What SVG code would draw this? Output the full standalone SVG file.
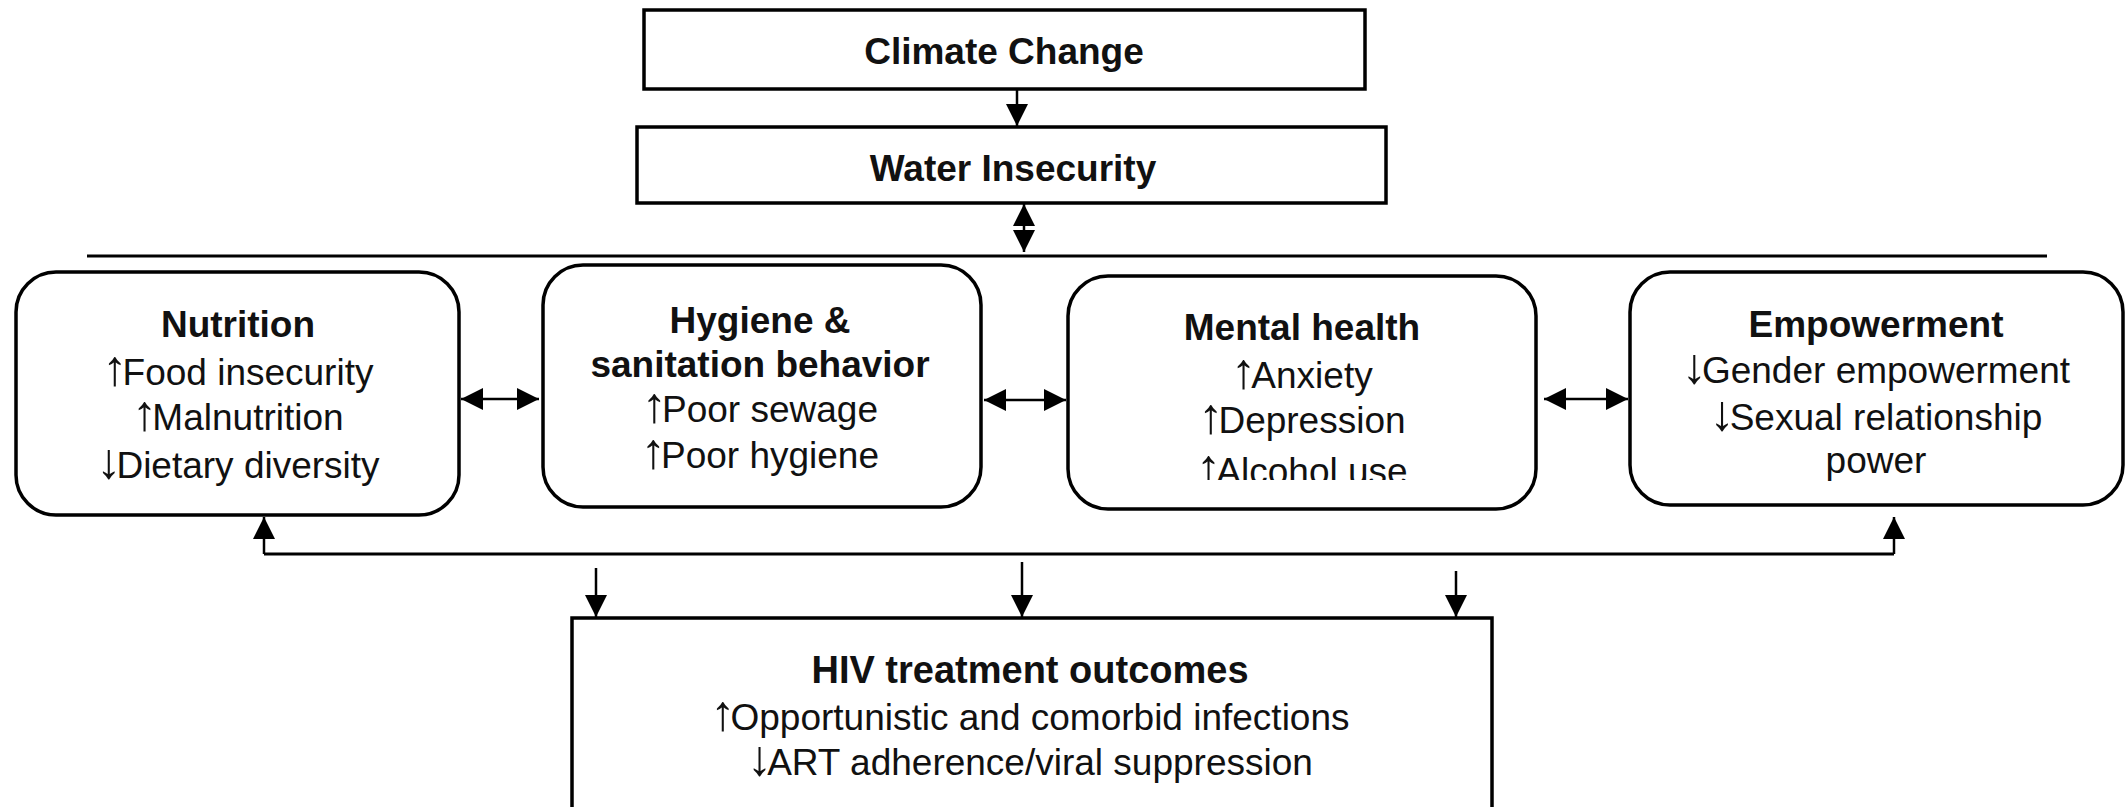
<svg xmlns="http://www.w3.org/2000/svg" width="2126" height="807" viewBox="0 0 2126 807">
<defs>
<marker id="ah" viewBox="0 0 10 10" refX="10" refY="5" markerWidth="22" markerHeight="24" markerUnits="userSpaceOnUse" orient="auto-start-reverse">
<path d="M0,0 L10,5 L0,10 z" fill="#000"/>
</marker>
<clipPath id="clipAlc"><rect x="1070" y="430" width="460" height="50"/></clipPath>
</defs>
<style>
.box{fill:#fff;stroke:#000;stroke-width:3.5}
.t{font-family:"Liberation Sans",Arial,sans-serif;font-size:37px;fill:#111;text-anchor:middle}
.b{font-weight:bold}
.ar{font-size:50px}
.c{stroke:#000;stroke-width:3;fill:none}
.a{stroke:#000;stroke-width:2.5;fill:none;marker-end:url(#ah)}
.d{stroke:#000;stroke-width:2.5;fill:none;marker-end:url(#ah);marker-start:url(#ah)}
</style>
<rect width="2126" height="807" fill="#fff"/>

<g id="connectors">
<line class="a" x1="1017" y1="89" x2="1017" y2="126"/>
<line class="d" x1="1024" y1="204" x2="1024" y2="252"/>
<line class="c" x1="87" y1="256" x2="2047" y2="256"/>
<line class="d" x1="461" y1="399" x2="539" y2="399"/>
<line class="d" x1="984" y1="400" x2="1066" y2="400"/>
<line class="d" x1="1544" y1="399" x2="1628" y2="399"/>
<line class="c" x1="264" y1="554" x2="1894" y2="554"/>
<line class="a" x1="264" y1="554" x2="264" y2="517"/>
<line class="a" x1="1894" y1="554" x2="1894" y2="517"/>
<line class="a" x1="596" y1="568" x2="596" y2="617"/>
<line class="a" x1="1022" y1="562" x2="1022" y2="617"/>
<line class="a" x1="1456" y1="571" x2="1456" y2="617"/>
</g>

<g id="climate">
<rect class="box" x="644" y="10" width="721" height="79"/>
<text class="t b" x="1004" y="64">Climate Change</text>
</g>

<g id="water">
<rect class="box" x="637" y="127" width="749" height="76"/>
<text class="t b" x="1013" y="181">Water Insecurity</text>
</g>

<g id="nutrition">
<rect class="box" x="16" y="272" width="443" height="243" rx="40"/>
<text class="t b" x="238" y="337">Nutrition</text>
<text class="t" x="238" y="385"><tspan class="ar">↑</tspan><tspan dx="-5">Food insecurity</tspan></text>
<text class="t" x="238" y="430"><tspan class="ar">↑</tspan><tspan dx="-5">Malnutrition</tspan></text>
<text class="t" x="238" y="478"><tspan class="ar">↓</tspan><tspan dx="-5">Dietary diversity</tspan></text>
</g>

<g id="hygiene">
<rect class="box" x="543" y="265" width="438" height="242" rx="40"/>
<text class="t b" x="760" y="333">Hygiene &amp;</text>
<text class="t b" x="760" y="377">sanitation behavior</text>
<text class="t" x="760" y="422"><tspan class="ar">↑</tspan><tspan dx="-5">Poor sewage</tspan></text>
<text class="t" x="760" y="468"><tspan class="ar">↑</tspan><tspan dx="-5">Poor hygiene</tspan></text>
</g>

<g id="mental">
<rect class="box" x="1068" y="276" width="468" height="233" rx="40"/>
<text class="t b" x="1302" y="340">Mental health</text>
<text class="t" x="1302" y="388"><tspan class="ar">↑</tspan><tspan dx="-5">Anxiety</tspan></text>
<text class="t" x="1302" y="433"><tspan class="ar">↑</tspan><tspan dx="-5">Depression</tspan></text>
<text class="t" x="1302" y="484" clip-path="url(#clipAlc)"><tspan class="ar">↑</tspan><tspan dx="-5">Alcohol use</tspan></text>
</g>

<g id="empowerment">
<rect class="box" x="1630" y="272" width="493" height="233" rx="40"/>
<text class="t b" x="1876" y="337">Empowerment</text>
<text class="t" x="1876" y="383"><tspan class="ar">↓</tspan><tspan dx="-5">Gender empowerment</tspan></text>
<text class="t" x="1876" y="430"><tspan class="ar">↓</tspan><tspan dx="-5">Sexual relationship</tspan></text>
<text class="t" x="1876" y="473">power</text>
</g>

<g id="hiv">
<rect class="box" x="572" y="618" width="920" height="200"/>
<text class="t b" x="1030" y="683" style="font-size:38px">HIV treatment outcomes</text>
<text class="t" x="1030" y="730"><tspan class="ar">↑</tspan><tspan dx="-5">Opportunistic and comorbid infections</tspan></text>
<text class="t" x="1030" y="775"><tspan class="ar">↓</tspan><tspan dx="-5">ART adherence/viral suppression</tspan></text>
</g>
</svg>
